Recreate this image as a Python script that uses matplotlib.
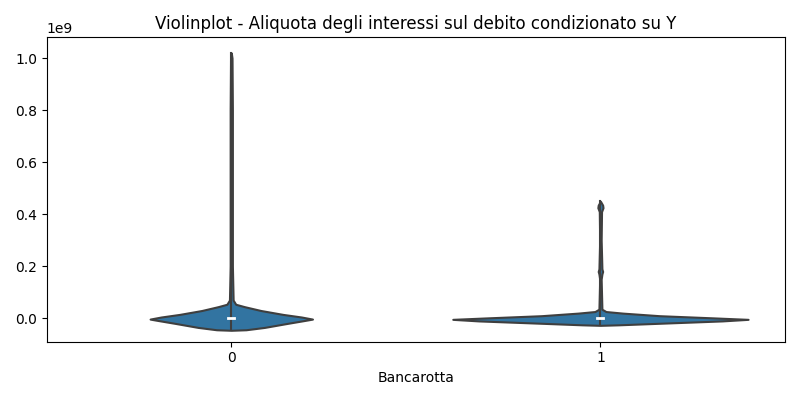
import matplotlib
matplotlib.use("Agg")
import matplotlib.pyplot as plt
import numpy as np

categories = ["0", "1"]
# violin outlines: y (in 1e9) and half-width (in category units)
v0_y = [-0.046, -0.044, -0.035, -0.02, -0.008, -0.003, 0.005, 0.015, 0.03, 0.045, 0.054, 0.07, 0.2, 0.5, 0.8, 1.0, 1.02]
v0_w = [0.0, 0.04, 0.09, 0.15, 0.2, 0.22, 0.19, 0.14, 0.08, 0.035, 0.012, 0.005, 0.003, 0.003, 0.003, 0.002, 0.0]
v1_y = [-0.027, -0.025, -0.018, -0.01, -0.004, 0.002, 0.01, 0.02, 0.026, 0.035, 0.15, 0.17, 0.18, 0.19, 0.3, 0.41, 0.425, 0.435, 0.45]
v1_w = [0.0, 0.05, 0.18, 0.33, 0.4, 0.3, 0.16, 0.06, 0.015, 0.004, 0.002, 0.004, 0.006, 0.004, 0.002, 0.003, 0.007, 0.006, 0.0]
medians = [0.0, 0.0]

fig, ax = plt.subplots(figsize=(8, 4), dpi=100)
for i, (ys, ws) in enumerate([(v0_y, v0_w), (v1_y, v1_w)]):
    ys = np.array(ys) * 1e9
    ws = np.array(ws)
    ax.fill_betweenx(ys, i - ws, i + ws, facecolor="#3274a1", edgecolor="#3f3f3f", linewidth=1.5, zorder=2)
    ax.plot([i, i], [ys[0], ys[-1]], color="#3f3f3f", linewidth=1.5, zorder=3)
    ax.plot([i - 0.008, i + 0.008], [medians[i] * 1e9] * 2, color="white", linewidth=2, zorder=4)

ax.set_xticks([0, 1])
ax.set_xticklabels(categories)
ax.set_xlim(-0.5, 1.5)
ax.set_ylim(-0.09e9, 1.08e9)
ax.set_xlabel("Bancarotta")
ax.set_title("Violinplot - Aliquota degli interessi sul debito condizionato su Y")
plt.tight_layout()
plt.savefig("out.png")
